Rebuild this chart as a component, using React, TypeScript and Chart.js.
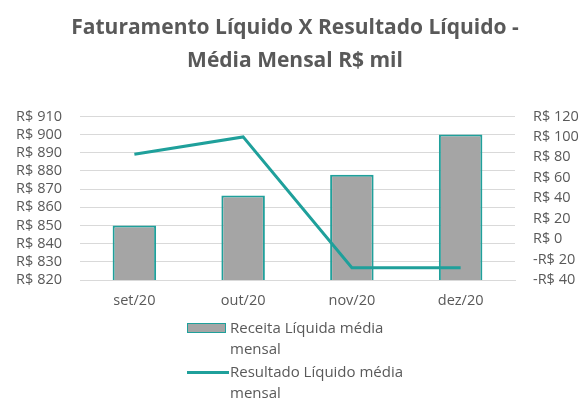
import React, { useEffect, useRef } from "react";
import { Chart, registerables } from "chart.js";

Chart.register(...registerables);

const categories = ["set/20", "out/20", "nov/20", "dez/20"];
const receitaLiquida = [850, 866.5, 878, 900];
const resultadoLiquido = [83, 100, -28, -28];
const titleLines = ["Faturamento Líquido X Resultado Líquido -", "Média Mensal R$ mil"];
const legendReceita = ["Receita Líquida média", "mensal"];
const legendResultado = ["Resultado Líquido média", "mensal"];

const TEAL = "#1fa09b";
const BAR = "#a5a5a5";
const TEXT = "#595959";
const GRID = "#d9d9d9";
const FONT = "'Open Sans', 'Liberation Sans', sans-serif";
const TICK_SIZE = 14.5;

function fmt(v: number) {
  const n = Math.round(v);
  return n < 0 ? `-R$ ${Math.abs(n)}` : `R$ ${n}`;
}

export default function App() {
  const ref = useRef<HTMLCanvasElement | null>(null);

  useEffect(() => {
    if (!ref.current) return;
    const chart = new Chart(ref.current, {
      data: {
        labels: categories,
        datasets: [
          {
            type: "line",
            label: legendResultado.join(" "),
            data: resultadoLiquido,
            yAxisID: "y1",
            borderColor: TEAL,
            backgroundColor: TEAL,
            borderWidth: 3,
            pointRadius: 0,
            tension: 0,
            order: 0,
          },
          {
            type: "bar",
            label: legendReceita.join(" "),
            data: receitaLiquida,
            yAxisID: "y",
            backgroundColor: BAR,
            borderColor: TEAL,
            borderWidth: 2,
            barPercentage: 0.4,
            categoryPercentage: 1,
            order: 1,
          },
        ],
      },
      options: {
        animation: false,
        responsive: false,
        maintainAspectRatio: false,
        layout: { padding: { left: 8, right: 0, top: 0, bottom: 79.5 } },
        plugins: {
          legend: { display: false },
          tooltip: { enabled: false },
          title: {
            display: true,
            text: titleLines,
            color: TEXT,
            font: { family: FONT, size: 21, weight: "bold", lineHeight: 1.57 },
            padding: { top: 12, bottom: 38.5 },
          },
        },
        scales: {
          x: {
            grid: { display: false, drawTicks: false },
            border: { display: true, color: GRID, width: 1 },
            ticks: { color: TEXT, font: { family: FONT, size: TICK_SIZE }, padding: 12 },
          },
          y: {
            position: "left",
            min: 820,
            max: 910,
            ticks: {
              stepSize: 10,
              autoSkip: false,
              color: TEXT,
              font: { family: FONT, size: TICK_SIZE },
              padding: 18,
              callback: (v: any) => fmt(Number(v)),
            },
            grid: { color: GRID, drawTicks: false },
            border: { display: false },
            afterFit: (s: any) => {
              s.width = 72;
            },
          },
          y1: {
            position: "right",
            min: -40,
            max: 120,
            ticks: {
              stepSize: 20,
              autoSkip: false,
              color: TEXT,
              font: { family: FONT, size: TICK_SIZE },
              padding: 18,
              callback: (v: any) => fmt(Number(v)),
            },
            grid: { display: false, drawTicks: false },
            border: { display: false },
            afterFit: (s: any) => {
              s.width = 67;
            },
          },
        },
      } as any,
    } as any);
    return () => chart.destroy();
  }, []);

  const textStyle: React.CSSProperties = {
    fontFamily: FONT,
    fontSize: 15,
    color: TEXT,
    lineHeight: "21px",
  };

  return (
    <div
      style={{
        position: "fixed",
        left: 0,
        top: 0,
        width: 582,
        height: 401,
        background: "#fff",
      }}
    >
      <canvas ref={ref} width={582} height={401} style={{ display: "block" }} />
      <div style={{ position: "absolute", left: 187, top: 317 }}>
        <div style={{ display: "flex", alignItems: "flex-start" }}>
          <div
            style={{
              width: 37,
              height: 8,
              background: BAR,
              border: `1.5px solid ${TEAL}`,
              marginTop: 5.5,
              marginRight: 4,
            }}
          />
          <div style={textStyle}>
            {legendReceita[0]}
            <br />
            {legendReceita[1]}
          </div>
        </div>
        <div style={{ display: "flex", alignItems: "flex-start", marginTop: 2 }}>
          <div
            style={{
              width: 42,
              height: 3,
              background: TEAL,
              marginTop: 9.5,
              marginRight: 1,
            }}
          />
          <div style={textStyle}>
            {legendResultado[0]}
            <br />
            {legendResultado[1]}
          </div>
        </div>
      </div>
    </div>
  );
}
